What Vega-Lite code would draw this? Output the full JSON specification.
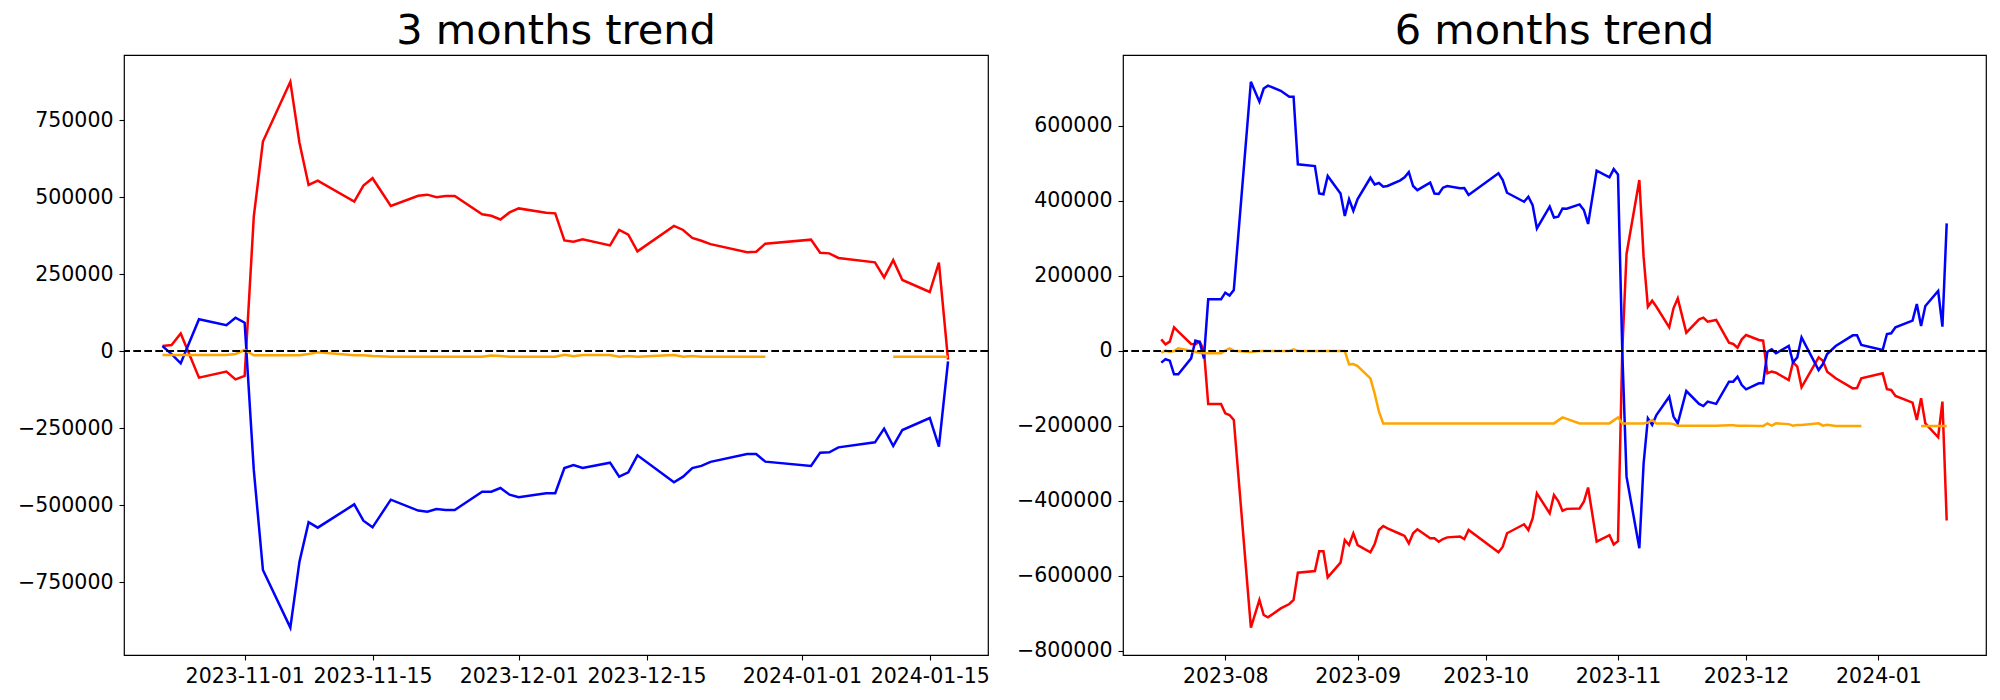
{
  "$schema": "https://vega.github.io/schema/vega-lite/v6.json",
  "background": "white",
  "padding": {"left": 16, "top": 10, "right": 5, "bottom": 5},
  "bounds": "flush",
  "spacing": 135,
  "config": {
    "font": "DejaVu Sans",
    "view": {"stroke": "black", "strokeWidth": 1.2},
    "axis": {"grid": false, "domain": false, "ticks": true, "tickColor": "black", "tickSize": 5, "tickWidth": 1.1, "labelFont": "DejaVu Sans", "labelFontSize": 20.5, "labelColor": "black", "labelPadding": 6, "title": null},
    "title": {"font": "DejaVu Sans", "fontSize": 41.5, "fontWeight": "normal", "color": "black", "offset": 2.5, "baseline": "alphabetic", "anchor": "middle", "frame": "group"}
  },
  "datasets": {
    "m3": [
      {"date": "2023-10-23", "red": 16000, "blue": 16000, "orange": -13000},
      {"date": "2023-10-24", "red": 19500, "blue": -10000, "orange": -13000},
      {"date": "2023-10-25", "red": 57000, "blue": -40000, "orange": -13000},
      {"date": "2023-10-27", "red": -86600, "blue": 103000, "orange": -13000},
      {"date": "2023-10-30", "red": -67000, "blue": 84000, "orange": -13000},
      {"date": "2023-10-31", "red": -92000, "blue": 108000, "orange": -9700},
      {"date": "2023-11-01", "red": -81000, "blue": 92000, "orange": 3200},
      {"date": "2023-11-02", "red": 436000, "blue": -386000, "orange": -14000},
      {"date": "2023-11-03", "red": 680000, "blue": -711000, "orange": -14000},
      {"date": "2023-11-06", "red": 874000, "blue": -898000, "orange": -14000},
      {"date": "2023-11-07", "red": 676000, "blue": -684000, "orange": -14000},
      {"date": "2023-11-08", "red": 539000, "blue": -556000, "orange": -9500},
      {"date": "2023-11-09", "red": 553000, "blue": -573600, "orange": -4300},
      {"date": "2023-11-13", "red": 485000, "blue": -498000, "orange": -14000},
      {"date": "2023-11-14", "red": 537000, "blue": -551000, "orange": -14000},
      {"date": "2023-11-15", "red": 561000, "blue": -572500, "orange": -16000},
      {"date": "2023-11-17", "red": 471000, "blue": -482700, "orange": -18400},
      {"date": "2023-11-20", "red": 504000, "blue": -518000, "orange": -18400},
      {"date": "2023-11-21", "red": 507600, "blue": -521600, "orange": -18400},
      {"date": "2023-11-22", "red": 499000, "blue": -513000, "orange": -18400},
      {"date": "2023-11-23", "red": 503000, "blue": -516000, "orange": -18400},
      {"date": "2023-11-24", "red": 503000, "blue": -516000, "orange": -18400},
      {"date": "2023-11-27", "red": 444000, "blue": -456700, "orange": -18400},
      {"date": "2023-11-28", "red": 439000, "blue": -456700, "orange": -15000},
      {"date": "2023-11-29", "red": 427000, "blue": -444800, "orange": -16200},
      {"date": "2023-11-30", "red": 450000, "blue": -466500, "orange": -18400},
      {"date": "2023-12-01", "red": 463000, "blue": -475000, "orange": -18400},
      {"date": "2023-12-04", "red": 449000, "blue": -462000, "orange": -18400},
      {"date": "2023-12-05", "red": 447000, "blue": -462000, "orange": -18400},
      {"date": "2023-12-06", "red": 359000, "blue": -380000, "orange": -12000},
      {"date": "2023-12-07", "red": 355000, "blue": -370000, "orange": -17300},
      {"date": "2023-12-08", "red": 362500, "blue": -380000, "orange": -13000},
      {"date": "2023-12-11", "red": 343000, "blue": -362500, "orange": -13000},
      {"date": "2023-12-12", "red": 393000, "blue": -408000, "orange": -18400},
      {"date": "2023-12-13", "red": 378000, "blue": -394000, "orange": -16200},
      {"date": "2023-12-14", "red": 323600, "blue": -338700, "orange": -18400},
      {"date": "2023-12-18", "red": 406000, "blue": -426400, "orange": -13000},
      {"date": "2023-12-19", "red": 393000, "blue": -408000, "orange": -18400},
      {"date": "2023-12-20", "red": 367000, "blue": -380000, "orange": -16200},
      {"date": "2023-12-21", "red": 358000, "blue": -373000, "orange": -18400},
      {"date": "2023-12-22", "red": 347000, "blue": -360000, "orange": -18400},
      {"date": "2023-12-26", "red": 321000, "blue": -334400, "orange": -18400},
      {"date": "2023-12-27", "red": 322500, "blue": -334400, "orange": -18400},
      {"date": "2023-12-28", "red": 348500, "blue": -359300, "orange": -18400},
      {"date": "2024-01-02", "red": 361500, "blue": -373400, "orange": null},
      {"date": "2024-01-03", "red": 319000, "blue": -330000, "orange": null},
      {"date": "2024-01-04", "red": 317000, "blue": -329000, "orange": null},
      {"date": "2024-01-05", "red": 302000, "blue": -312800, "orange": null},
      {"date": "2024-01-09", "red": 288000, "blue": -296500, "orange": null},
      {"date": "2024-01-10", "red": 239000, "blue": -252000, "orange": null},
      {"date": "2024-01-11", "red": 295000, "blue": -308400, "orange": -18400},
      {"date": "2024-01-12", "red": 230500, "blue": -256500, "orange": -18400},
      {"date": "2024-01-15", "red": 191500, "blue": -217500, "orange": -18400},
      {"date": "2024-01-16", "red": 287000, "blue": -310600, "orange": -18400},
      {"date": "2024-01-17", "red": -28000, "blue": -34000, "orange": -18400}
    ],
    "m6": [
      {"date": "2023-07-17", "red": 31000, "blue": -31000, "orange": -4400},
      {"date": "2023-07-18", "red": 17800, "blue": -22000, "orange": 900},
      {"date": "2023-07-19", "red": 24900, "blue": -25800, "orange": -1800},
      {"date": "2023-07-20", "red": 63100, "blue": -62000, "orange": 0},
      {"date": "2023-07-21", "red": 51500, "blue": -62000, "orange": 7100},
      {"date": "2023-07-24", "red": 18700, "blue": -19500, "orange": 900},
      {"date": "2023-07-25", "red": 18000, "blue": 27500, "orange": -1800},
      {"date": "2023-07-26", "red": 24900, "blue": 24000, "orange": -4400},
      {"date": "2023-07-27", "red": 2700, "blue": -19500, "orange": -6200},
      {"date": "2023-07-28", "red": -141300, "blue": 137800, "orange": -6200},
      {"date": "2023-07-31", "red": -141300, "blue": 137800, "orange": -6200},
      {"date": "2023-08-01", "red": -166200, "blue": 155600, "orange": 900},
      {"date": "2023-08-02", "red": -170700, "blue": 148000, "orange": 7100},
      {"date": "2023-08-03", "red": -184000, "blue": 162700, "orange": 900},
      {"date": "2023-08-07", "red": -737900, "blue": 718000, "orange": -2600},
      {"date": "2023-08-09", "red": -664000, "blue": 665000, "orange": 0},
      {"date": "2023-08-10", "red": -704000, "blue": 700000, "orange": 0},
      {"date": "2023-08-11", "red": -710300, "blue": 707600, "orange": 0},
      {"date": "2023-08-14", "red": -686300, "blue": 694000, "orange": 0},
      {"date": "2023-08-16", "red": -674700, "blue": 678000, "orange": 0},
      {"date": "2023-08-17", "red": -664000, "blue": 678000, "orange": 4400},
      {"date": "2023-08-18", "red": -591200, "blue": 497800, "orange": 0},
      {"date": "2023-08-22", "red": -586700, "blue": 493000, "orange": 0},
      {"date": "2023-08-23", "red": -534300, "blue": 420000, "orange": 0},
      {"date": "2023-08-24", "red": -534300, "blue": 418000, "orange": 0},
      {"date": "2023-08-25", "red": -603600, "blue": 466700, "orange": 0},
      {"date": "2023-08-28", "red": -564500, "blue": 420000, "orange": 0},
      {"date": "2023-08-29", "red": -504000, "blue": 360000, "orange": 0},
      {"date": "2023-08-30", "red": -517400, "blue": 405000, "orange": -35600},
      {"date": "2023-08-31", "red": -486300, "blue": 374000, "orange": -34700},
      {"date": "2023-09-01", "red": -517400, "blue": 405000, "orange": -40000},
      {"date": "2023-09-04", "red": -537000, "blue": 462000, "orange": -72900},
      {"date": "2023-09-05", "red": -514700, "blue": 444000, "orange": -113800},
      {"date": "2023-09-06", "red": -477400, "blue": 448000, "orange": -162000},
      {"date": "2023-09-07", "red": -466700, "blue": 438000, "orange": -193000},
      {"date": "2023-09-08", "red": -473000, "blue": 440000, "orange": -193000},
      {"date": "2023-09-11", "red": -488000, "blue": 455000, "orange": -193000},
      {"date": "2023-09-12", "red": -493000, "blue": 463000, "orange": -193000},
      {"date": "2023-09-13", "red": -513000, "blue": 477000, "orange": -193000},
      {"date": "2023-09-14", "red": -486000, "blue": 440000, "orange": -193000},
      {"date": "2023-09-15", "red": -475600, "blue": 429000, "orange": -193000},
      {"date": "2023-09-18", "red": -499600, "blue": 449000, "orange": -193000},
      {"date": "2023-09-19", "red": -499600, "blue": 420000, "orange": -193000},
      {"date": "2023-09-20", "red": -508500, "blue": 418700, "orange": -193000},
      {"date": "2023-09-21", "red": -501400, "blue": 435600, "orange": -193000},
      {"date": "2023-09-22", "red": -497000, "blue": 440000, "orange": -193000},
      {"date": "2023-09-25", "red": -495000, "blue": 433800, "orange": -193000},
      {"date": "2023-09-26", "red": -501400, "blue": 434700, "orange": -193000},
      {"date": "2023-09-27", "red": -477400, "blue": 416000, "orange": -193000},
      {"date": "2023-10-04", "red": -537000, "blue": 473800, "orange": -193000},
      {"date": "2023-10-05", "red": -521800, "blue": 456000, "orange": -193000},
      {"date": "2023-10-06", "red": -486000, "blue": 422000, "orange": -193000},
      {"date": "2023-10-10", "red": -462000, "blue": 398000, "orange": -193000},
      {"date": "2023-10-11", "red": -477400, "blue": 411500, "orange": -193000},
      {"date": "2023-10-12", "red": -446300, "blue": 389000, "orange": -193000},
      {"date": "2023-10-13", "red": -379600, "blue": 327000, "orange": -193000},
      {"date": "2023-10-16", "red": -432900, "blue": 385000, "orange": -193000},
      {"date": "2023-10-17", "red": -384000, "blue": 356000, "orange": -193000},
      {"date": "2023-10-18", "red": -400000, "blue": 358000, "orange": -185000},
      {"date": "2023-10-19", "red": -426000, "blue": 380000, "orange": -177000},
      {"date": "2023-10-20", "red": -421000, "blue": 379500, "orange": -181000},
      {"date": "2023-10-23", "red": -420000, "blue": 391000, "orange": -193000},
      {"date": "2023-10-24", "red": -402000, "blue": 376000, "orange": -193000},
      {"date": "2023-10-25", "red": -364000, "blue": 338700, "orange": -193000},
      {"date": "2023-10-27", "red": -508000, "blue": 481000, "orange": -193000},
      {"date": "2023-10-30", "red": -491000, "blue": 463000, "orange": -193000},
      {"date": "2023-10-31", "red": -516000, "blue": 485000, "orange": -185000},
      {"date": "2023-11-01", "red": -507000, "blue": 471000, "orange": -177000},
      {"date": "2023-11-02", "red": 0, "blue": 0, "orange": -193000},
      {"date": "2023-11-03", "red": 258700, "blue": -335000, "orange": -193000},
      {"date": "2023-11-06", "red": 456000, "blue": -526000, "orange": -193000},
      {"date": "2023-11-07", "red": 251000, "blue": -300000, "orange": -193000},
      {"date": "2023-11-08", "red": 118200, "blue": -179600, "orange": -191000},
      {"date": "2023-11-09", "red": 134200, "blue": -197000, "orange": -184000},
      {"date": "2023-11-10", "red": 118000, "blue": -170700, "orange": -193000},
      {"date": "2023-11-13", "red": 63100, "blue": -121800, "orange": -193000},
      {"date": "2023-11-14", "red": 113800, "blue": -175000, "orange": -195000},
      {"date": "2023-11-15", "red": 140400, "blue": -193000, "orange": -199000},
      {"date": "2023-11-17", "red": 48900, "blue": -106700, "orange": -199000},
      {"date": "2023-11-20", "red": 84400, "blue": -141000, "orange": -199000},
      {"date": "2023-11-21", "red": 88900, "blue": -146700, "orange": -199000},
      {"date": "2023-11-22", "red": 78200, "blue": -135000, "orange": -199000},
      {"date": "2023-11-24", "red": 82700, "blue": -141000, "orange": -199000},
      {"date": "2023-11-27", "red": 22200, "blue": -81800, "orange": -198000},
      {"date": "2023-11-28", "red": 18700, "blue": -81800, "orange": -198000},
      {"date": "2023-11-29", "red": 8900, "blue": -68400, "orange": -199000},
      {"date": "2023-11-30", "red": 31100, "blue": -90700, "orange": -199000},
      {"date": "2023-12-01", "red": 42700, "blue": -102200, "orange": -199000},
      {"date": "2023-12-04", "red": 29300, "blue": -86200, "orange": -200000},
      {"date": "2023-12-05", "red": 27600, "blue": -86200, "orange": -200000},
      {"date": "2023-12-06", "red": -59600, "blue": -1800, "orange": -193000},
      {"date": "2023-12-07", "red": -55000, "blue": 4400, "orange": -199000},
      {"date": "2023-12-08", "red": -57800, "blue": -6200, "orange": -193000},
      {"date": "2023-12-11", "red": -77300, "blue": 13300, "orange": -195000},
      {"date": "2023-12-12", "red": -30000, "blue": -30200, "orange": -199000},
      {"date": "2023-12-13", "red": -41800, "blue": -16900, "orange": -197000},
      {"date": "2023-12-14", "red": -96900, "blue": 36400, "orange": -197000},
      {"date": "2023-12-18", "red": -16900, "blue": -50700, "orange": -193000},
      {"date": "2023-12-19", "red": -25800, "blue": -34700, "orange": -199000},
      {"date": "2023-12-20", "red": -55000, "blue": -8000, "orange": -197000},
      {"date": "2023-12-22", "red": -72900, "blue": 13300, "orange": -200000},
      {"date": "2023-12-26", "red": -99600, "blue": 41800, "orange": -200000},
      {"date": "2023-12-27", "red": -98700, "blue": 41800, "orange": -200000},
      {"date": "2023-12-28", "red": -72900, "blue": 16000, "orange": -200000},
      {"date": "2024-01-02", "red": -59600, "blue": 2700, "orange": null},
      {"date": "2024-01-03", "red": -102000, "blue": 45300, "orange": null},
      {"date": "2024-01-04", "red": -104000, "blue": 47100, "orange": null},
      {"date": "2024-01-05", "red": -120000, "blue": 63100, "orange": null},
      {"date": "2024-01-09", "red": -137800, "blue": 80900, "orange": null},
      {"date": "2024-01-10", "red": -184000, "blue": 125300, "orange": null},
      {"date": "2024-01-11", "red": -126000, "blue": 66700, "orange": -200000},
      {"date": "2024-01-12", "red": -193000, "blue": 120000, "orange": -200000},
      {"date": "2024-01-15", "red": -230000, "blue": 160000, "orange": -200000},
      {"date": "2024-01-16", "red": -135000, "blue": 64900, "orange": -200000},
      {"date": "2024-01-17", "red": -452000, "blue": 340400, "orange": -200000}
    ]
  },
  "hconcat": [
    {
      "title": "3 months trend",
      "width": 864,
      "height": 600,
      "layer": [
        {"data": {"name": "m3"},
         "mark": {"type": "line", "color": "red", "strokeWidth": 2.5},
         "encoding": {
           "x": {"field": "date", "type": "temporal",
             "scale": {"type": "utc", "domain": [{"utc": true, "year": 2023, "month": 10, "date": 18, "hours": 19}, {"utc": true, "year": 2024, "month": 1, "date": 21, "hours": 9}], "nice": false},
             "axis": {"format": "%Y-%m-%d", "labelAngle": 0,
               "values": [{"utc": true, "year": 2023, "month": 11, "date": 1}, {"utc": true, "year": 2023, "month": 11, "date": 15}, {"utc": true, "year": 2023, "month": 12, "date": 1}, {"utc": true, "year": 2023, "month": 12, "date": 15}, {"utc": true, "year": 2024, "month": 1, "date": 1}, {"utc": true, "year": 2024, "month": 1, "date": 15}]}},
           "y": {"field": "red", "type": "quantitative", "scale": {"domain": [-987013, 961039], "nice": false, "zero": false}, "axis": {"values": [-750000, -500000, -250000, 0, 250000, 500000, 750000], "format": "d"}}}},
        {"data": {"name": "m3"},
         "mark": {"type": "line", "color": "blue", "strokeWidth": 2.5},
         "encoding": {
           "x": {"field": "date", "type": "temporal"},
           "y": {"field": "blue", "type": "quantitative"}}},
        {"data": {"name": "m3"},
         "mark": {"type": "line", "color": "orange", "strokeWidth": 2.5, "invalid": "break-paths-show-domains"},
         "encoding": {
           "x": {"field": "date", "type": "temporal"},
           "y": {"field": "orange", "type": "quantitative"}}},
        {"data": {"values": [{}]},
         "mark": {"type": "rule", "color": "black", "strokeWidth": 2, "strokeDash": [7.7, 3.3]},
         "encoding": {"y": {"datum": 0, "type": "quantitative"}}}
      ]
    },
    {
      "title": "6 months trend",
      "width": 863,
      "height": 600,
      "layer": [
        {"data": {"name": "m6"},
         "mark": {"type": "line", "color": "red", "strokeWidth": 2.5},
         "encoding": {
           "x": {"field": "date", "type": "temporal",
             "scale": {"type": "utc", "domain": [{"utc": true, "year": 2023, "month": 7, "date": 8, "hours": 1}, {"utc": true, "year": 2024, "month": 1, "date": 26, "hours": 5}], "nice": false},
             "axis": {"format": "%Y-%m", "labelAngle": 0,
               "values": [{"utc": true, "year": 2023, "month": 8, "date": 1}, {"utc": true, "year": 2023, "month": 9, "date": 1}, {"utc": true, "year": 2023, "month": 10, "date": 1}, {"utc": true, "year": 2023, "month": 11, "date": 1}, {"utc": true, "year": 2023, "month": 12, "date": 1}, {"utc": true, "year": 2024, "month": 1, "date": 1}]}},
           "y": {"field": "red", "type": "quantitative", "scale": {"domain": [-810667, 789333], "nice": false, "zero": false}, "axis": {"values": [-800000, -600000, -400000, -200000, 0, 200000, 400000, 600000], "format": "d"}}}},
        {"data": {"name": "m6"},
         "mark": {"type": "line", "color": "blue", "strokeWidth": 2.5},
         "encoding": {
           "x": {"field": "date", "type": "temporal"},
           "y": {"field": "blue", "type": "quantitative"}}},
        {"data": {"name": "m6"},
         "mark": {"type": "line", "color": "orange", "strokeWidth": 2.5, "invalid": "break-paths-show-domains"},
         "encoding": {
           "x": {"field": "date", "type": "temporal"},
           "y": {"field": "orange", "type": "quantitative"}}},
        {"data": {"values": [{}]},
         "mark": {"type": "rule", "color": "black", "strokeWidth": 2, "strokeDash": [7.7, 3.3]},
         "encoding": {"y": {"datum": 0, "type": "quantitative"}}}
      ]
    }
  ]
}
